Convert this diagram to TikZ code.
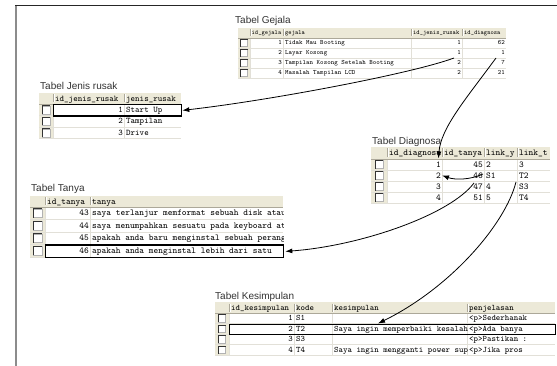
\documentclass[tikz,border=0pt]{standalone}
\usepackage{fontspec}
\setmainfont{Liberation Sans}
\usetikzlibrary{arrows.meta,calc}

\definecolor{hdrbg}{HTML}{ECE9D8}
\definecolor{hdrsep}{HTML}{ACA899}
\definecolor{gridc}{HTML}{E2E0D8}
\definecolor{titlec}{HTML}{333333}
\definecolor{framec}{HTML}{8C8C8C}

\tikzset{
  ttl/.style={anchor=base west, inner sep=0pt, font=\fontsize{10}{12}\selectfont, text=titlec},
  cr/.style={anchor=base east, inner sep=0pt},
  cl/.style={anchor=base west, inner sep=0pt},
  fgh/.style={font=\ttfamily\fontsize{6.2}{7}\selectfont},
  fg/.style={font=\ttfamily\fontsize{6.6}{7}\selectfont},
  fj/.style={font=\ttfamily\fontsize{8.6}{10}\selectfont},
  fd/.style={font=\ttfamily\fontsize{9}{10}\selectfont},
  fk/.style={font=\ttfamily\fontsize{8.4}{10}\selectfont},
  hlbox/.style={draw=black, line width=1.3pt, inner sep=0pt, anchor=north west},
  link/.style={draw=black, line width=0.8pt, -{Latex[length=7pt,width=5pt]}},
  ckbox/.style={draw=gray!60, fill=white, inner sep=0pt},
}

% grid of a database table view:
% #1 left, #2 right of checkbox column, #3 right, #4 top, #5 header height,
% #6 row height, #7 row count, #8 column separators, #9 name prefix
\newcommand{\dbtable}[9]{%
  \pgfmathsetmacro\tblhb{#4+#5}%
  \pgfmathsetmacro\tblbt{#4+#5+#7*#6}%
  \fill[white] (#1,\tblhb) rectangle (#3,\tblbt);
  \fill[hdrbg] (#1,#4) rectangle (#3,\tblhb);
  \fill[hdrbg] (#1,\tblhb) rectangle (#2,\tblbt);
  \foreach \c in {#2,#8} {
    \draw[gridc] (\c,\tblhb) -- (\c,\tblbt);
    \draw[hdrsep] (\c,#4+1.5) -- (\c,\tblhb-1.5);
    \draw[white] (\c+0.8,#4+1.5) -- (\c+0.8,\tblhb-1.5);
  }
  \draw[hdrsep] (#1,\tblhb) -- (#3,\tblhb);
  \foreach \r in {1,...,#7} {
    \pgfmathsetmacro\rowy{\tblhb+\r*#6}
    \pgfmathsetmacro\cky{\tblhb+(\r-0.5)*#6}
    \draw[gridc] (#1,\rowy) -- (#3,\rowy);
    \node[ckbox, minimum size={0.7*#6}] (#9-ck\r) at ({(#1+#2)/2},\cky) {};
    \draw[gray!40!black, line width=0.5pt] (#9-ck\r.south west) |- (#9-ck\r.north east);
  }
}

\begin{document}
\begin{tikzpicture}[x=1pt,y=-1pt]
\useasboundingbox (0,0) rectangle (557,366);
\fill[white] (0,0) rectangle (557,366);

% window frame
\draw[framec, line width=2pt] (16,5) -- (16,366);
\draw[black!85, line width=0.8pt] (15,5) -- (557,5);

% ---- Tabel Gejala ----
\node[ttl] (gj-title) at (235,24) {Tabel Gejala};
\dbtable{238}{250}{506}{28}{10}{10}{4}{283,411,462}{gj}
\node[cl,fgh] (gj-h1) at (251.5,35) {id\_gejala};
\node[cl,fgh] (gj-h2) at (285,35) {gejala};
\node[cl,fgh] (gj-h3) at (413,35) {id\_jenis\_rusak};
\node[cl,fgh] (gj-h4) at (464,35) {id\_diagnosa};
\foreach \i/\va/\vb/\vc in {1/Tidak Mau Booting/1/62, 2/Layar Kosong/1/1,
    3/Tampilan Kosong Setelah Booting/2/7, 4/Masalah Tampilan LCD/2/21} {
  \pgfmathsetmacro\by{38+10*(\i-0.5)+2}
  \node[cr,fg] (gj-a\i) at (282,\by) {\i};
  \node[cl,fg] (gj-b\i) at (285,\by) {\va};
  \node[cr,fg] (gj-c\i) at (461,\by) {\vb};
  \node[cr,fg] (gj-d\i) at (505,\by) {\vc};
}

% ---- Tabel Jenis rusak ----
\node[ttl] (jr-title) at (40,89.5) {Tabel Jenis rusak};
\dbtable{39}{53}{181}{93}{11}{11.5}{3}{124}{jr}
\node[cl,fj] (jr-h1) at (55,101.1) {id\_jenis\_rusak};
\node[cl,fj] (jr-h2) at (126,101.1) {jenis\_rusak};
\foreach \i/\va in {1/Start Up, 2/Tampilan, 3/Drive} {
  \pgfmathsetmacro\by{104+11.5*(\i-0.5)+2.6}
  \node[cr,fj] (jr-a\i) at (123,\by) {\i};
  \node[cl,fj] (jr-b\i) at (126,\by) {\va};
}
\node[hlbox, minimum width=128pt, minimum height=11.5pt] (jr-hl) at (53,104) {};

% ---- Tabel Diagnosa ----
\node[ttl] (dg-title) at (372,145) {Tabel Diagnosa};
\dbtable{371}{387}{550}{147}{12}{11}{4}{442,484,517}{dg}
\node[cl,fd] (dg-h1) at (389,155.7) {id\_diagnosa};
\node[cl,fd] (dg-h2) at (444,155.7) {id\_tanya};
\node[cl,fd] (dg-h3) at (486,155.7) {link\_y};
\node[cl,fd] (dg-h4) at (519,155.7) {link\_t};
\foreach \i/\va/\vb/\vc in {1/45/2/3, 2/46/S1/T2, 3/47/4/S3, 4/51/5/T4} {
  \pgfmathsetmacro\by{159+11*(\i-0.5)+2.7}
  \node[cr,fd] (dg-a\i) at (441,\by) {\i};
  \node[cr,fd] (dg-b\i) at (483,\by) {\va};
  \node[cl,fd] (dg-c\i) at (486,\by) {\vb};
  \node[cl,fd] (dg-d\i) at (519,\by) {\vc};
}

% ---- Tabel Tanya ----
\node[ttl] (ty-title) at (31,192) {Tabel Tanya};
\dbtable{30}{45}{283}{196}{11}{12.5}{4}{90}{ty}
\node[cl,fd] (ty-h1) at (47,204.2) {id\_tanya};
\node[cl,fd] (ty-h2) at (92,204.2) {tanya};
\begin{scope}
  \clip (90,207) rectangle (283,257);
  \foreach \i/\va/\vb in {1/43/saya terlanjur memformat sebuah disk atau,
      2/44/saya menumpahkan sesuatu pada keyboard at,
      3/45/apakah anda baru menginstal sebuah perang,
      4/46/apakah anda menginstal lebih dari satu} {
    \pgfmathsetmacro\by{207+12.5*(\i-0.5)+2.7}
    \node[cl,fd] (ty-b\i) at (92,\by) {\vb};
  }
\end{scope}
\foreach \i/\va in {1/43, 2/44, 3/45, 4/46} {
  \pgfmathsetmacro\by{207+12.5*(\i-0.5)+2.7}
  \node[cr,fd] (ty-a\i) at (89,\by) {\va};
}
\node[hlbox, minimum width=238pt, minimum height=12.5pt] (ty-hl) at (45,244.5) {};

% ---- Tabel Kesimpulan ----
\node[ttl] (ks-title) at (215,299) {Tabel Kesimpulan};
\dbtable{215}{229}{555}{302}{11}{10.5}{4}{294,332,467}{ks}
\node[cl,fk] (ks-h1) at (231,310) {id\_kesimpulan};
\node[cl,fk] (ks-h2) at (296,310) {kode};
\node[cl,fk] (ks-h3) at (334,310) {kesimpulan};
\node[cl,fk] (ks-h4) at (469,310) {penjelasan};
\foreach \i/\va in {1/S1, 2/T2, 3/S3, 4/T4} {
  \pgfmathsetmacro\by{313+10.5*(\i-0.5)+2.5}
  \node[cr,fk] (ks-a\i) at (293,\by) {\i};
  \node[cl,fk] (ks-b\i) at (296,\by) {\va};
}
\begin{scope}
  \clip (332,313) rectangle (467,355);
  \foreach \i/\va in {1/{}, 2/Saya ingin memperbaiki kesalah, 3/{}, 4/Saya ingin mengganti power sup} {
    \pgfmathsetmacro\by{313+10.5*(\i-0.5)+2.5}
    \node[cl,fk] (ks-c\i) at (334,\by) {\va};
  }
\end{scope}
\begin{scope}
  \clip (467,313) rectangle (555,355);
  \foreach \i/\va in {1/<p>Sederhanak, 2/<p>Ada banya, 3/<p>Pastikan :, 4/<p>Jika pros} {
    \pgfmathsetmacro\by{313+10.5*(\i-0.5)+2.5}
    \node[cl,fk] (ks-d\i) at (469,\by) {\va};
  }
\end{scope}
\node[hlbox, minimum width=326pt, minimum height=10.5pt] (ks-hl) at (229,323.5) {};

% ---- relation arrows ----
\coordinate (a1s) at (454,58);
\coordinate (a2s) at (496,58);
\coordinate (a3s) at (483,174);
\coordinate (a4s) at (474,183);
\coordinate (a5s) at (516,182);
\draw[link] (a1s) .. controls (414,73) and (273,100) .. (jr-hl.east);
\draw[link] (a2s) .. controls (465,100) and (441,128) .. ([yshift=3pt]dg-a1.north);
\draw[link] (a3s) .. controls (470,180) and (455,180) .. ([xshift=1pt]dg-a2.east);
\draw[link] (a4s) .. controls (450,215) and (360,246) .. ([xshift=1pt]ty-hl.east);
\draw[link] (a5s) .. controls (505,225) and (450,288) .. ([xshift=149pt]ks-hl.north west);
\end{tikzpicture}
\end{document}
